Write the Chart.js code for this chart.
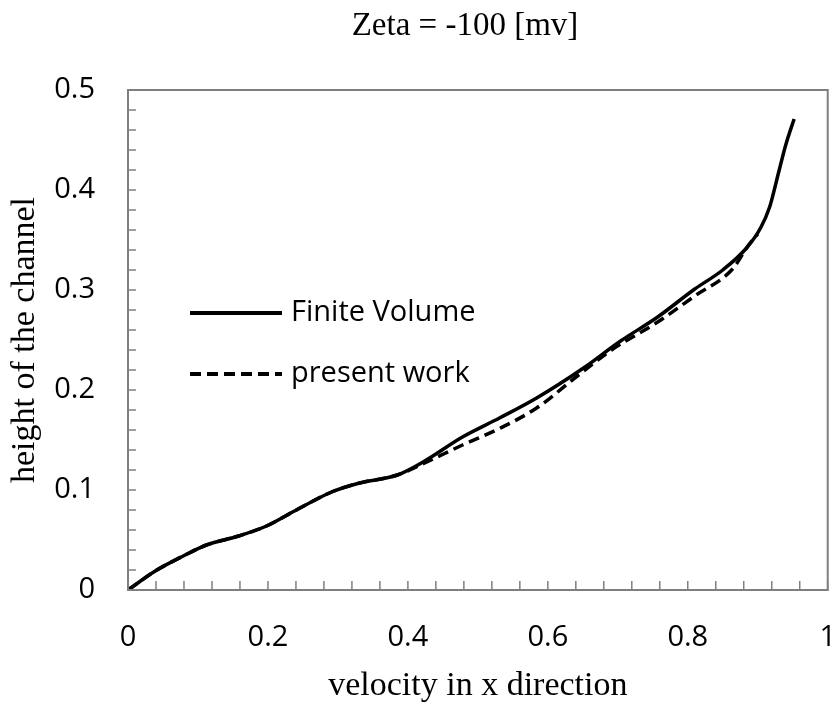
<!DOCTYPE html>
<html>
<head>
<meta charset="utf-8">
<script src="https://cdn.jsdelivr.net/npm/chart.js@4.4.1/dist/chart.umd.min.js"></script>
<style>
    html, body { margin: 0; padding: 0; background: #fff; }
    #box { width: 834px; height: 706px; }
</style>
</head>
<body>
<div id="box"><canvas id="zetaChart" width="834" height="706"></canvas></div>
<script>
// valores
const tituloGrafico = 'Zeta = -100 [mv]'
const nomesSeries = ['Finite Volume', 'present work']

const finiteX = [0, 0.039, 0.079, 0.112, 0.158, 0.198, 0.238, 0.291, 0.331, 0.385, 0.424, 0.478, 0.531, 0.584, 0.651, 0.704, 0.757, 0.810, 0.850, 0.884, 0.904, 0.917, 0.930, 0.940, 0.952]
const finiteY = [0, 0.019, 0.034, 0.045, 0.054, 0.064, 0.079, 0.098, 0.107, 0.115, 0.129, 0.153, 0.172, 0.192, 0.222, 0.249, 0.273, 0.301, 0.320, 0.342, 0.362, 0.383, 0.418, 0.445, 0.471]

const presentX = [0, 0.039, 0.079, 0.112, 0.158, 0.198, 0.238, 0.291, 0.331, 0.385, 0.424, 0.478, 0.531, 0.584, 0.644, 0.691, 0.757, 0.810, 0.864, 0.887, 0.900]
const presentY = [0, 0.019, 0.034, 0.045, 0.054, 0.064, 0.079, 0.098, 0.107, 0.115, 0.127, 0.145, 0.1615, 0.182, 0.215, 0.240, 0.268, 0.294, 0.321, 0.345, 0.356]

const eixoX = { min: 0, max: 1, passo: 0.04, rotulo: 0.2, titulo: 'velocity in x direction' }
const eixoY = { min: 0, max: 0.5, passo: 0.02, rotulo: 0.1, titulo: 'height of the channel' }

const fonteSans = '"Open Sans", Lato, sans-serif'
const fonteSerif = '"Liberation Serif", "Times New Roman", serif'

function pontos(xs, ys) {
    return xs.map((x, i) => ({ x: x, y: ys[i] }))
}

function ehRotulo(v, passo) {
    let q = v / passo
    return Math.abs(q - Math.round(q)) < 1e-6
}

// moldura, tracinhos internos, titulo e legenda
const extras = {
    id: 'extras',
    afterDraw(c) {
        const ctx = c.ctx
        const area = c.chartArea
        const sx = c.scales.x
        const sy = c.scales.y
        ctx.save()

        ctx.strokeStyle = '#7f7f7f'
        ctx.lineWidth = 1.5
        sx.ticks.forEach(t => {
            let px = sx.getPixelForValue(t.value)
            ctx.beginPath()
            ctx.moveTo(px, area.bottom)
            ctx.lineTo(px, area.bottom - 9)
            ctx.stroke()
        })
        sy.ticks.forEach(t => {
            let py = sy.getPixelForValue(t.value)
            ctx.beginPath()
            ctx.moveTo(area.left, py)
            ctx.lineTo(area.left + 8, py)
            ctx.stroke()
        })
        ctx.lineWidth = 2
        ctx.strokeRect(area.left, area.top, area.right - area.left, area.bottom - area.top)

        ctx.fillStyle = '#000'
        ctx.font = '33px ' + fonteSerif
        ctx.textAlign = 'center'
        ctx.textBaseline = 'middle'
        ctx.fillText(tituloGrafico, 465, 26)

        // legenda dentro da area
        ctx.font = '29px ' + fonteSans
        ctx.textAlign = 'left'
        c.data.datasets.forEach((ds, i) => {
            let ly = area.top + 223 + i * 61
            ctx.strokeStyle = '#000'
            ctx.lineWidth = 4
            ctx.setLineDash(ds.borderDash || [])
            ctx.beginPath()
            ctx.moveTo(area.left + 62, ly)
            ctx.lineTo(area.left + 154, ly)
            ctx.stroke()
            ctx.setLineDash([])
            ctx.fillText(ds.label, area.left + 163, ly)
        })
        ctx.restore()
    }
}

let grafico

document.addEventListener('DOMContentLoaded', () => {
    grafico = new Chart(document.getElementById('zetaChart'), {
        type: 'line',
        data: {
            datasets: [{
                label: nomesSeries[0],
                data: pontos(finiteX, finiteY),
                borderColor: '#000',
                borderWidth: 3.5,
                pointRadius: 0,
                tension: 0.4,
                cubicInterpolationMode: 'monotone'
            }, {
                label: nomesSeries[1],
                data: pontos(presentX, presentY),
                borderColor: '#000',
                borderWidth: 3.5,
                borderDash: [11, 6],
                pointRadius: 0,
                tension: 0.4,
                cubicInterpolationMode: 'monotone'
            }]
        },
        options: {
            responsive: false,
            animation: false,
            layout: { padding: { top: 90, right: 6, left: 0, bottom: 0 } },
            plugins: {
                legend: { display: false },
                title: { display: false },
                tooltip: { enabled: false }
            },
            scales: {
                x: {
                    type: 'linear',
                    min: eixoX.min,
                    max: eixoX.max,
                    grid: { display: true, drawOnChartArea: false, drawTicks: true, tickLength: 32, tickColor: 'rgba(0,0,0,0)' },
                    border: { display: false },
                    ticks: {
                        stepSize: eixoX.passo,
                        autoSkip: false,
                        maxRotation: 0,
                        padding: -2,
                        color: '#000',
                        font: { family: fonteSans, size: 29 },
                        callback: v => ehRotulo(v, eixoX.rotulo) ? String(+v.toFixed(1)) : ''
                    },
                    title: {
                        display: true,
                        text: eixoX.titulo,
                        color: '#000',
                        font: { family: fonteSerif, size: 34 },
                        padding: { top: 0, bottom: 0 }
                    },
                    afterFit: s => { s.height = 116 }
                },
                y: {
                    type: 'linear',
                    min: eixoY.min,
                    max: eixoY.max,
                    grid: { display: false, drawTicks: false },
                    border: { display: false },
                    ticks: {
                        stepSize: eixoY.passo,
                        autoSkip: false,
                        padding: 33,
                        color: '#000',
                        font: { family: fonteSans, size: 29 },
                        callback: v => ehRotulo(v, eixoY.rotulo) ? String(+v.toFixed(1)) : ''
                    },
                    title: {
                        display: true,
                        text: eixoY.titulo,
                        color: '#000',
                        font: { family: fonteSerif, size: 34 },
                        padding: { top: 5, bottom: 0 }
                    },
                    afterFit: s => { s.width = 128 }
                }
            }
        },
        plugins: [extras]
    })
})
</script>
</body>
</html>
